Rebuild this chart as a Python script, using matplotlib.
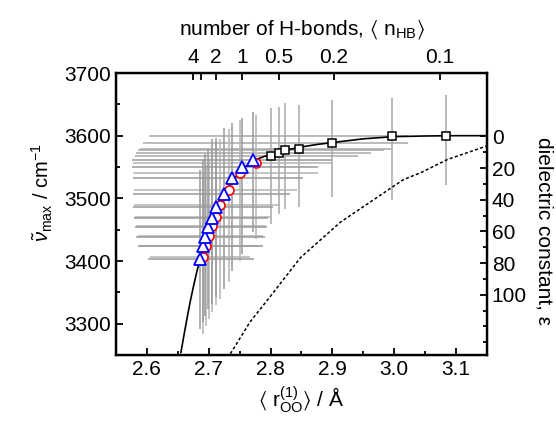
import numpy as np
import matplotlib
matplotlib.use('Agg')
import matplotlib.pyplot as plt
from matplotlib.ticker import MultipleLocator, FixedLocator

plt.rcParams['font.family'] = ['Liberation Sans', 'DejaVu Sans']
plt.rcParams['mathtext.fontset'] = 'custom'
plt.rcParams['mathtext.rm'] = 'Liberation Sans'
plt.rcParams['mathtext.it'] = 'Liberation Sans:italic'
plt.rcParams['mathtext.fallback'] = 'stixsans'
plt.rcParams['font.size'] = 15

# triangles (blue)
tri_r = [2.686, 2.690, 2.694, 2.699, 2.705, 2.712, 2.725, 2.738, 2.753, 2.772]
tri_v = [3403, 3424, 3438, 3455, 3469, 3486, 3507, 3532, 3550, 3561]
tri_r_lo = [2.602, 2.586, 2.582, 2.581, 2.579, 2.578, 2.578, 2.578, 2.576, 2.576]
tri_r_hi = [2.774, 2.788, 2.791, 2.795, 2.796, 2.804, 2.832, 2.853, 2.877, 2.900]
tri_v_lo = [3292, 3303, 3313, 3324, 3332, 3343, 3356, 3384, 3411, 3446]
tri_v_hi = [3546, 3562, 3570, 3578, 3594, 3597, 3613, 3621, 3629, 3637]

# circles (red)
circ_r = [2.690, 2.696, 2.700, 2.706, 2.712, 2.718, 2.732, 2.751, 2.777]
circ_v = [3406, 3424, 3440, 3456, 3471, 3489, 3514, 3540, 3557]
circ_r_lo = [2.605, 2.589, 2.586, 2.582, 2.581, 2.579, 2.579, 2.578, 2.578]
circ_r_hi = [2.767, 2.780, 2.787, 2.792, 2.800, 2.816, 2.843, 2.877, 2.897]
circ_v_lo = [3284, 3297, 3308, 3319, 3329, 3340, 3367, 3400, 3435]
circ_v_hi = [3538, 3554, 3565, 3575, 3586, 3594, 3610, 3625, 3633]

# squares (black)
sq_r = [2.801, 2.813, 2.824, 2.846, 2.900, 2.996, 3.084]
sq_v = [3568, 3572, 3577, 3579, 3588, 3599, 3600]
sq_r_lo = [2.581, 2.583, 2.586, 2.589, 2.594, 2.603, 3.084]
sq_r_hi = [2.941, 2.962, 2.983, 2.994, 3.022, 3.023, 3.084]
sq_v_lo = [3459, 3475, 3483, 3486, 3502, 3498, 3521]
sq_v_hi = [3644, 3646, 3652, 3649, 3657, 3660, 3665]

# solid fit curve
curve_r = [2.655, 2.660, 2.665, 2.670, 2.675, 2.680, 2.686, 2.695, 2.705, 2.715,
           2.725, 2.738, 2.753, 2.772, 2.790, 2.810, 2.830, 2.850, 2.875, 2.900,
           2.950, 3.000, 3.050, 3.100, 3.150]
curve_v = [3254, 3282, 3309, 3335, 3358, 3380, 3403, 3433, 3462, 3486,
           3506, 3527, 3546, 3560, 3567, 3573, 3578, 3582, 3586, 3589,
           3595, 3598.5, 3599.5, 3600, 3600]

# dotted curve
dash_r = [2.735, 2.767, 2.800, 2.848, 2.913, 2.967, 3.015, 3.043, 3.086, 3.151]
dash_v = [3252, 3303, 3344, 3405, 3462, 3498, 3530, 3541, 3562, 3584]

# top axis: number of H-bonds
nhb_pos = [2.675, 2.688, 2.712, 2.754, 2.813, 2.902, 3.074]
nhb_labels = ['4', '', '2', '1', '0.5', '0.2', '0.1']


def bars(ax, r, v, rlo, rhi, vlo, vhi, color):
    r = np.array(r); v = np.array(v)
    xerr = [r - np.array(rlo), np.array(rhi) - r]
    yerr = [v - np.array(vlo), np.array(vhi) - v]
    ax.errorbar(r, v, xerr=xerr, yerr=yerr, fmt='none', ecolor=color,
                elinewidth=1.1, capsize=0, zorder=1)


fig = plt.figure(figsize=(5.56, 4.29), dpi=100)
ax = fig.add_axes([0.2086, 0.1725, 0.6673, 0.6573])

bars(ax, sq_r, sq_v, sq_r_lo, sq_r_hi, sq_v_lo, sq_v_hi, '#a8a8a8')
bars(ax, circ_r, circ_v, circ_r_lo, circ_r_hi, circ_v_lo, circ_v_hi, '#b4b4b4')
bars(ax, tri_r, tri_v, tri_r_lo, tri_r_hi, tri_v_lo, tri_v_hi, '#999999')

ax.plot(curve_r, curve_v, color='black', lw=1.2, zorder=2)
ax.plot(dash_r, dash_v, color='black', lw=1.1, ls=(0, (2, 1.5)), zorder=2)

ax.plot(circ_r, circ_v, 'o', ls='none', mfc='white', mec='red', ms=6.5, mew=1.2, zorder=3)
ax.plot(tri_r, tri_v, '^', ls='none', mfc='white', mec='blue', ms=8, mew=1.3, zorder=4)
ax.plot(sq_r, sq_v, 's', ls='none', mfc='white', mec='black', ms=6, mew=1.1, zorder=5)

ax.set_xlim(2.55, 3.15)
ax.set_ylim(3250, 3700)
ax.xaxis.set_major_locator(MultipleLocator(0.1))
ax.xaxis.set_minor_locator(MultipleLocator(0.05))
ax.yaxis.set_major_locator(MultipleLocator(100))
ax.yaxis.set_minor_locator(MultipleLocator(50))
ax.tick_params(which='both', direction='in', width=1.3)
ax.tick_params(which='major', length=5)
ax.tick_params(which='minor', length=3)
ax.set_xticklabels([f'{t:.1f}' for t in ax.get_xticks()])
ax.set_xlim(2.55, 3.15)
ax.set_xlabel(r'$\langle$ r$^{(1)}_{\rm OO}\rangle$ / Å', labelpad=4)
ax.set_ylabel(r'$\tilde{\nu}_{\rm max}$ / cm$^{-1}$', fontsize=14.5)
ax.yaxis.set_label_coords(-0.165, 0.575)
for s in ax.spines.values():
    s.set_linewidth(1.6)

# top axis
axt = ax.twiny()
axt.set_xlim(ax.get_xlim())
axt.xaxis.set_major_locator(FixedLocator(nhb_pos))
axt.set_xticklabels(nhb_labels)
axt.tick_params(direction='in', length=5, width=1.3, pad=4)
axt.set_xlabel(r'number of H-bonds, $\langle$ n$_{\rm HB}\rangle$', labelpad=10)

# right axis: dielectric constant
axr = ax.twinx()
axr.set_ylim(138, -40)
axr.yaxis.set_major_locator(FixedLocator([0, 20, 40, 60, 80, 100]))
axr.yaxis.set_minor_locator(FixedLocator([10, 30, 50, 70, 90, 110, 120, 130]))
axr.tick_params(which='both', direction='in', width=1.3)
axr.tick_params(which='major', length=5)
axr.tick_params(which='minor', length=3)
axr.set_ylabel('dielectric constant, ε', rotation=270)
axr.yaxis.set_label_coords(1.18, 0.44)
for s in axr.spines.values():
    s.set_linewidth(1.6)

fig.savefig('out.png', dpi=100)
